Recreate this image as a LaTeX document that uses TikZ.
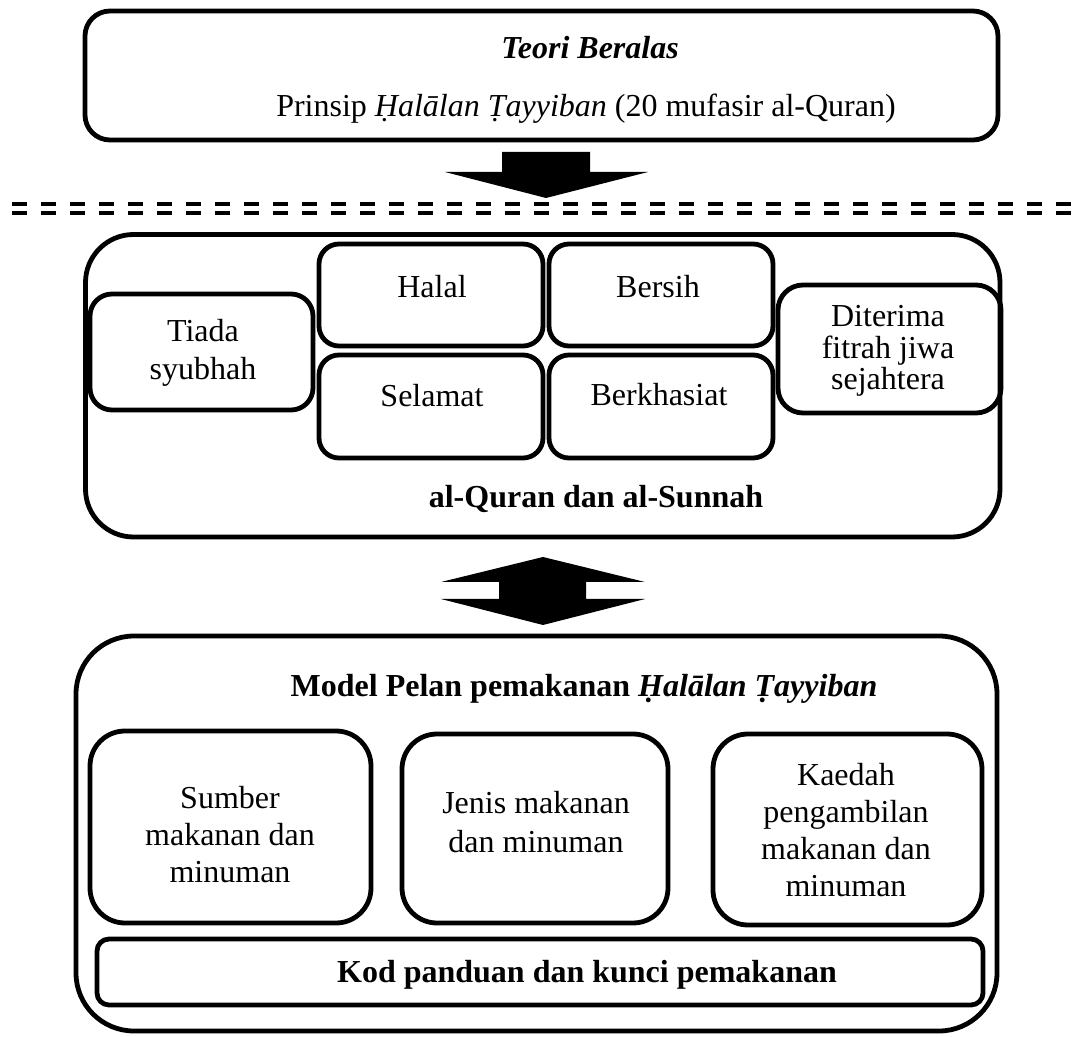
\documentclass[tikz,border=0pt]{standalone}
\usepackage{fontspec}
\setmainfont{Liberation Serif}
\begin{document}
\begin{tikzpicture}[x=0.5pt,y=-0.5pt,
  box/.style={draw, line width=2.4pt, rounded corners=#1, inner sep=0pt, outer sep=0pt},
  box/.default=10pt,
  txt/.style={inner sep=0pt, anchor=base, font=\fontsize{16}{19}\selectfont},
  blockarrow/.style={fill=black},
  sepline/.style={line width=2pt, dash pattern=on 7.5pt off 7pt}]
\useasboundingbox (0,0) rectangle (1077,1037);

% top box
\node[box=12.5pt, minimum width=456.5pt, minimum height=64.5pt] (top) at (541.5,75.5) {};
\node[txt, font=\fontsize{16}{19}\selectfont\bfseries\itshape] (topT) at (590,59) {Teori Beralas};
\node[txt] (topP) at (586,117) {Prinsip \textit{Ḥalālan Ṭayyiban} (20 mufasir al-Quran)};

% down arrow
\fill[blockarrow] (502,152) -- (590,152) -- (590,172) -- (648,172) -- (546,198) -- (445,172) -- (502,172) -- cycle;

% separator
\coordinate (sepL1) at (12,204); \coordinate (sepR1) at (1077,204);
\coordinate (sepL2) at (12,213); \coordinate (sepR2) at (1077,213);
\draw[sepline] (sepL1) -- (sepR1);
\draw[sepline] (sepL2) -- (sepR2);

% middle box
\node[box=24pt, minimum width=457.25pt, minimum height=151.25pt] (mid) at (542.75,385.75) {};
\node[box=11pt, minimum width=111.5pt, minimum height=58pt] (tiada) at (201.5,352) {};
\node[box=10pt, minimum width=112pt, minimum height=51pt] (halal) at (431,295) {};
\node[box=10pt, minimum width=112pt, minimum height=51.5pt] (selamat) at (431,406.5) {};
\node[box=10pt, minimum width=112pt, minimum height=51pt] (bersih) at (661,295) {};
\node[box=10pt, minimum width=112pt, minimum height=51.5pt] (berkh) at (661,406.5) {};
\node[box=12.5pt, minimum width=111.5pt, minimum height=64pt] (diterima) at (889.5,349) {};

\node[txt] (tiadaT) at (203,342) {\begin{tabular}[t]{@{}c@{}}Tiada\\syubhah\end{tabular}};
\node[txt] (halalT) at (432,298) {Halal};
\node[txt] (selamatT) at (432,407) {Selamat};
\node[txt] (bersihT) at (658,298) {Bersih};
\node[txt] (berkhT) at (659,406) {Berkhasiat};
\node[txt, font=\fontsize{16}{15}\selectfont] (diterimaT) at (888,327) {\begin{tabular}[t]{@{}c@{}}Diterima\\fitrah jiwa\\sejahtera\end{tabular}};
\node[txt, font=\fontsize{16}{19}\selectfont\bfseries] (midT) at (596,508) {al-Quran dan al-Sunnah};

% double arrow
\fill[blockarrow] (543,557) -- (645,582) -- (586,582) -- (586,599) -- (645,599) -- (543,625) -- (441,599) -- (499,599) -- (499,582) -- (441,582) -- cycle;

% bottom box
\node[box=29pt, minimum width=460.5pt, minimum height=197.5pt] (bot) at (536.5,833.5) {};
\node[txt, font=\fontsize{16}{19}\selectfont\bfseries] (botT) at (584,697) {Model Pelan pemakanan \textit{Ḥalālan Ṭayyiban}};
\node[box=17.5pt, minimum width=140.5pt, minimum height=96pt] (sumber) at (230.5,827) {};
\node[box=17.5pt, minimum width=133pt, minimum height=94.5pt] (jenis) at (535,828.5) {};
\node[box=17.5pt, minimum width=134.5pt, minimum height=95.5pt] (kaedah) at (847.5,829.5) {};
\node[box=6pt, minimum width=443pt, minimum height=33pt] (kod) at (540,972) {};

\node[txt, font=\fontsize{16}{18.5}\selectfont] (sumberT) at (230,808) {\begin{tabular}[t]{@{}c@{}}Sumber\\makanan dan\\minuman\end{tabular}};
\node[txt, font=\fontsize{16}{19.5}\selectfont] (jenisT) at (536,813) {\begin{tabular}[t]{@{}c@{}}Jenis makanan\\dan minuman\end{tabular}};
\node[txt, font=\fontsize{16}{18.5}\selectfont] (kaedahT) at (846,785) {\begin{tabular}[t]{@{}c@{}}Kaedah\\pengambilan\\makanan dan\\minuman\end{tabular}};
\node[txt, font=\fontsize{16}{19}\selectfont\bfseries] (kodT) at (587,982) {Kod panduan dan kunci pemakanan};
\end{tikzpicture}
\end{document}
